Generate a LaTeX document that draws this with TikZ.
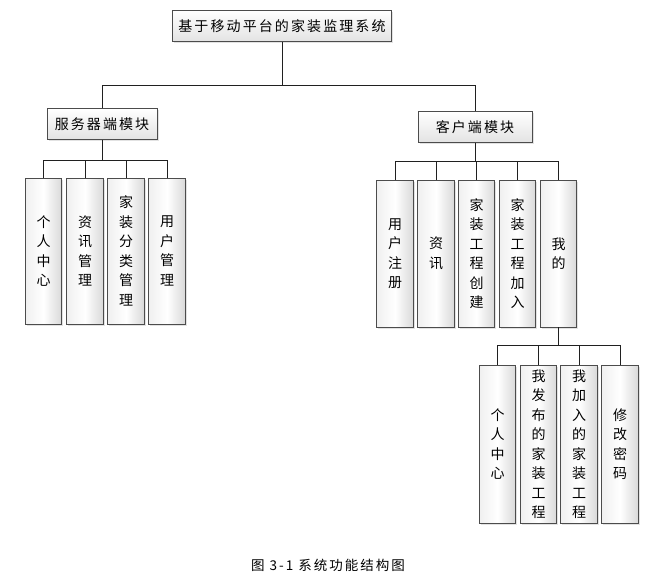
\documentclass[tikz,border=0pt]{standalone}
\usepackage{fontspec}
\setmainfont{Noto Sans CJK SC}
\newfontfamily\spacedcjk[LetterSpace=15]{Noto Sans CJK SC}
\usetikzlibrary{shadows}

\tikzset{
  boxbase/.style={draw=gray!60!black, line width=0.7pt, inner sep=0pt,
    drop shadow={shadow xshift=1.5pt, shadow yshift=-1.5pt, fill=gray!45}},
  hbox/.style={boxbase, top color=white, bottom color=gray!22,
    minimum height=31pt, font=\spacedcjk\fontsize{14}{16}\selectfont},
  vbox/.style={boxbase, left color=gray!12, right color=gray!30, middle color=white,
    minimum width=36.5pt, align=center, font=\fontsize{14}{19.5}\selectfont},
  link/.style={draw=gray!25!black, line width=0.8pt}
}

\begin{document}
\begin{tikzpicture}[x=1pt, y=-1pt]
  \useasboundingbox (0,0) rectangle (668,583);

  %% ---------- top levels ----------
  \node[hbox, minimum width=219pt] (sys) at (282,26) {基于移动平台的家装监理系统};
  \node[hbox, minimum width=110pt] (srv) at (102,124) {服务器端模块};
  \node[hbox, minimum width=114pt] (cli) at (475,127) {客户端模块};

  \coordinate (b0) at (282,85);
  \draw[link] (sys.south) -- (b0);
  \draw[link] (b0) -| (srv.north);
  \draw[link] (b0) -| (cli.north);

  %% ---------- server side ----------
  \begin{scope}[vbox/.append style={minimum height=146pt}]
    \node[vbox] (s1) at (43.5,251) {个\\人\\中\\心};
    \node[vbox] (s2) at (85,251)   {资\\讯\\管\\理};
    \node[vbox] (s3) at (126,251)  {家\\装\\分\\类\\管\\理};
    \node[vbox] (s4) at (167,251)  {用\\户\\管\\理};
  \end{scope}
  \coordinate (b1) at (102,160);
  \draw[link] (srv.south) -- (b1);
  \foreach \n in {s1,s2,s3,s4}
    \draw[link] (b1) -| (\n.north);

  %% ---------- client side ----------
  \begin{scope}[vbox/.append style={minimum height=147pt}]
    \node[vbox] (c1) at (395,253.5)   {用\\户\\注\\册};
    \node[vbox] (c2) at (436,253.5)   {资\\讯};
    \node[vbox] (c3) at (476.5,253.5) {家\\装\\工\\程\\创\\建};
    \node[vbox] (c4) at (517.5,253.5) {家\\装\\工\\程\\加\\入};
    \node[vbox] (c5) at (558.5,253.5) {我\\的};
  \end{scope}
  \coordinate (b2) at (475,161);
  \draw[link] (cli.south) -- (b2);
  \foreach \n in {c1,c2,c3,c4,c5}
    \draw[link] (b2) -| (\n.north);

  %% ---------- "mine" sub-modules ----------
  \begin{scope}[vbox/.append style={minimum height=158pt}]
    \node[vbox] (m1) at (497.5,444) {个\\人\\中\\心};
    \node[vbox] (m2) at (538.5,444) {我\\发\\布\\的\\家\\装\\工\\程};
    \node[vbox] (m3) at (579,444)   {我\\加\\入\\的\\家\\装\\工\\程};
    \node[vbox] (m4) at (620,444)   {修\\改\\密\\码};
  \end{scope}
  \coordinate (b3) at (558.5,345);
  \draw[link] (c5.south) -- (b3);
  \foreach \n in {m1,m2,m3,m4}
    \draw[link] (b3) -| (\n.north);

  \node[font=\spacedcjk\fontsize{13.5}{15}\selectfont] (cap) at (328,565) {图 3-1\ 系统功能结构图};
\end{tikzpicture}
\end{document}
